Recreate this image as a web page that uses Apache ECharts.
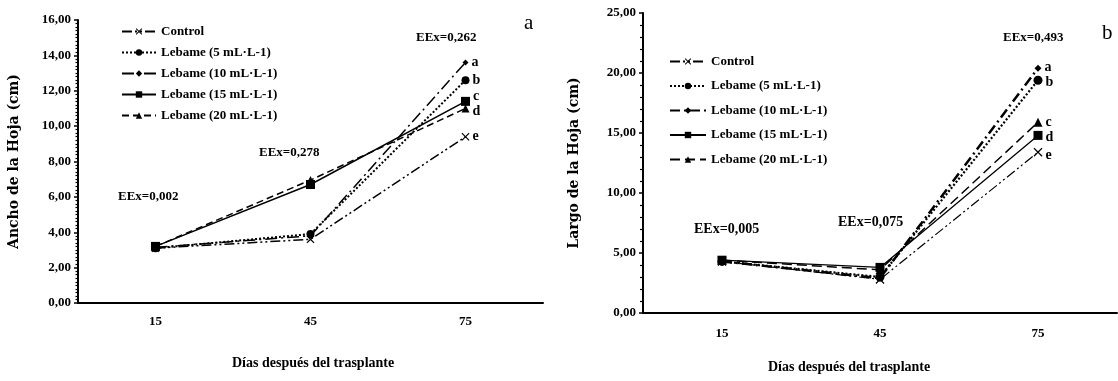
<!DOCTYPE html>
<html>
<head>
<meta charset="utf-8">
<script src="https://cdn.jsdelivr.net/npm/echarts@6/dist/echarts.min.js"></script>
<style>
  html, body { margin: 0; padding: 0; background: #fff; }
  #chart { width: 1118px; height: 381px; }
</style>
</head>
<body>
<div id="chart"></div>
<script>
const days = ['15', '45', '75'];
const seriesNames = ['Control', 'Lebame (5 mL·L-1)', 'Lebame (10 mL·L-1)', 'Lebame (15 mL·L-1)', 'Lebame (20 mL·L-1)'];

// panel a: Ancho de la Hoja (cm)
const anchoControl = [3.1, 3.6, 9.4];
const ancho5 = [3.1, 3.9, 12.6];
const ancho10 = [3.15, 3.8, 13.6];
const ancho15 = [3.2, 6.7, 11.4];
const ancho20 = [3.2, 6.95, 11.0];
const lettersA = ['e', 'b', 'a', 'c', 'd'];

// panel b: Largo de la Hoja (cm)
const largoControl = [4.3, 2.8, 13.4];
const largo5 = [4.3, 3.0, 19.4];
const largo10 = [4.3, 2.9, 20.4];
const largo15 = [4.4, 3.8, 14.8];
const largo20 = [4.4, 3.6, 15.9];
const lettersB = ['e', 'b', 'a', 'd', 'c'];

const crossPath = 'path://M0,1L1,0L5,4L9,0L10,1L6,5L10,9L9,10L5,6L1,10L0,9L4,5Z';
const black = '#000';
const serif = 'Liberation Serif';

function withLetter(vals, letter, offset) {
  return vals.map((v, i) => i === vals.length - 1
    ? { value: v, label: { show: true, formatter: letter, offset: offset || [0, 0] } }
    : v);
}

function lineSeries(name, vals, letter, idx, symbol, size, type, width, offset) {
  return {
    name: name,
    type: 'line',
    xAxisIndex: idx,
    yAxisIndex: idx,
    data: withLetter(vals, letter, offset),
    symbol: symbol,
    symbolSize: size,
    showSymbol: true,
    itemStyle: { color: black },
    lineStyle: { color: black, width: width, type: type },
    label: {
      show: false, position: 'right', distance: 3, color: black,
      fontFamily: serif, fontWeight: 'bold', fontSize: 14
    },
    emphasis: { disabled: true },
    animation: false
  };
}

const yLabel = {
  color: black, fontFamily: serif, fontWeight: 'bold', fontSize: 13, margin: 7,
  formatter: v => v.toFixed(2).replace('.', ',')
};
const axisTitle = { color: black, fontFamily: 'DejaVu Serif', fontWeight: 'bold', fontSize: 14 };
const legendText = { color: black, fontFamily: serif, fontWeight: 'bold', fontSize: 13 };

const namesB = seriesNames.map(n => n + ' ');

function note(x, y, text, size) {
  return { type: 'text', left: x, top: y, style: { text: text, fill: black, font: 'bold ' + size + 'px "Liberation Serif"' } };
}

const chart = echarts.init(document.getElementById('chart'));
chart.setOption({
  backgroundColor: '#fff',
  animation: false,
  grid: [
    { left: 78, top: 20, width: 465, height: 283 },
    { left: 643, top: 13, width: 474, height: 300 }
  ],
  legend: [
    {
      data: seriesNames, orient: 'vertical', left: 116, top: 20,
      itemWidth: 34, itemHeight: 8, itemGap: 8,
      textStyle: legendText,
      selectedMode: false
    },
    {
      data: namesB, orient: 'vertical', left: 664, top: 50,
      itemWidth: 36, itemHeight: 8, itemGap: 11.5,
      textStyle: legendText,
      selectedMode: false
    }
  ],
  xAxis: [0, 1].map(i => ({
    type: 'category', gridIndex: i, data: days, boundaryGap: true,
    axisLine: { lineStyle: { color: black, width: 2 } },
    axisTick: { alignWithLabel: true, length: 4, lineStyle: { color: black, width: 1.5 } },
    axisLabel: { color: black, fontFamily: serif, fontWeight: 'bold', fontSize: 13, margin: i === 0 ? 12 : 14 },
    splitLine: { show: false }
  })),
  yAxis: [
    {
      type: 'value', gridIndex: 0, min: 0, max: 16, interval: 2,
      name: 'Ancho de la Hoja (cm)', nameLocation: 'middle', nameGap: 57, nameTextStyle: axisTitle,
      axisLine: { show: true, lineStyle: { color: black, width: 2 } },
      axisTick: { show: true, length: 4, lineStyle: { color: black, width: 1.5 } },
      minorTick: { show: true, splitNumber: 10, length: 2.5, lineStyle: { color: black, width: 1.2 } },
      axisLabel: yLabel,
      splitLine: { show: false }
    },
    {
      type: 'value', gridIndex: 1, min: 0, max: 25, interval: 5,
      name: 'Largo de la Hoja (cm)', nameLocation: 'middle', nameGap: 62, nameTextStyle: axisTitle,
      axisLine: { show: true, lineStyle: { color: black, width: 2 } },
      axisTick: { show: true, length: 4, lineStyle: { color: black, width: 1.5 } },
      minorTick: { show: true, splitNumber: 5, length: 3, lineStyle: { color: black, width: 1.2 } },
      axisLabel: yLabel,
      splitLine: { show: false }
    }
  ],
  series: [
    lineSeries(seriesNames[0], anchoControl, lettersA[0], 0, crossPath, 8, [10, 3, 2, 3, 2, 3], 1.5),
    lineSeries(seriesNames[1], ancho5, lettersA[1], 0, 'circle', 8, [2, 2], 2),
    lineSeries(seriesNames[2], ancho10, lettersA[2], 0, 'diamond', 6, [12, 4, 2, 4], 1.5),
    lineSeries(seriesNames[3], ancho15, lettersA[3], 0, 'rect', 9, 'solid', 1.5, [0, -5]),
    lineSeries(seriesNames[4], ancho20, lettersA[4], 0, 'triangle', 8, [7, 4], 1.5, [0, 3]),
    lineSeries(namesB[0], largoControl, lettersB[0], 1, crossPath, 9, [10, 3, 2, 3, 2, 3], 1.2, [0, 3]),
    lineSeries(namesB[1], largo5, lettersB[1], 1, 'circle', 9, [2, 2], 2.2, [0, 2]),
    lineSeries(namesB[2], largo10, lettersB[2], 1, 'diamond', 7, [10, 4, 2, 4], 2.5, [0, -1]),
    lineSeries(namesB[3], largo15, lettersB[3], 1, 'rect', 9, 'solid', 1.3, [0, 2]),
    lineSeries(namesB[4], largo20, lettersB[4], 1, 'triangle', 9, [10, 5], 1.5)
  ],
  graphic: [
    note(118, 190, 'EEx=0,002', 13),
    note(259, 146, 'EEx=0,278', 13),
    note(416, 31, 'EEx=0,262', 13),
    { type: 'text', left: 524, top: 13, style: { text: 'a', fill: black, font: '21px "Liberation Serif"' } },
    note(694, 222, 'EEx=0,005', 14),
    note(838, 215, 'EEx=0,075', 14),
    note(1003, 31, 'EEx=0,493', 13),
    { type: 'text', left: 1102, top: 23, style: { text: 'b', fill: black, font: '21px "Liberation Serif"' } },
    note(232, 356, 'Días después del trasplante', 14),
    note(768, 360, 'Días después del trasplante', 14)
  ]
});
window.addEventListener('resize', () => chart.resize());
</script>
</body>
</html>
